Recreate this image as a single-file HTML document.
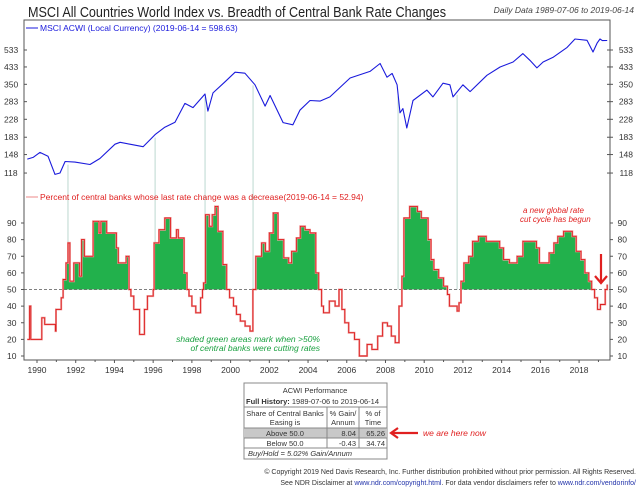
<!DOCTYPE html>
<html><head><meta charset="utf-8"><style>
body{margin:0;background:#fff;}
svg{display:block;font-family:"Liberation Sans",sans-serif;}
</style></head><body>
<svg id="c" width="640" height="488" viewBox="0 0 640 488">
<text x="28" y="17" font-size="15" textLength="418" lengthAdjust="spacingAndGlyphs" fill="#222">MSCI All Countries World Index vs. Breadth of Central Bank Rate Changes</text>
<text x="634" y="13" font-size="8.5" font-style="italic" fill="#444" text-anchor="end">Daily Data 1989-07-06 to 2019-06-14</text>
<rect x="24" y="20" width="586" height="340" fill="none" stroke="#555" stroke-width="1"/>
<g id="guides"></g>
<g id="lower"></g>
<g id="upper"></g>
<g id="axes"></g>
<line x1="26" y1="28" x2="38" y2="28" stroke="#1a1adc"/>
<text x="40" y="31" font-size="8.5" fill="#1a1adc">MSCI ACWI (Local Currency) (2019-06-14 = 598.63)</text>
<line x1="26" y1="197" x2="38" y2="197" stroke="#e88"/>
<text x="40" y="200" font-size="8.5" fill="#e02020">Percent of central banks whose last rate change was a decrease(2019-06-14 = 52.94)</text>
<text x="320" y="342" font-size="8.5" font-style="italic" fill="#1aa040" text-anchor="end">shaded green areas mark when &gt;50%</text>
<text x="320" y="351" font-size="8.5" font-style="italic" fill="#1aa040" text-anchor="end">of central banks were cutting rates</text>
<text x="523" y="213" font-size="8" font-style="italic" fill="#e02020">a new global rate</text>
<text x="520" y="222" font-size="8" font-style="italic" fill="#e02020">cut cycle has begun</text>
<g><line x1="601" y1="254" x2="601" y2="282" stroke="#e02020" stroke-width="2.2"/><polyline points="595,276 601,283 607,276" fill="none" stroke="#e02020" stroke-width="2.2"/></g>
<g font-size="7.5" fill="#333">
<rect x="244" y="383" width="143" height="76" fill="#fff" stroke="#888"/>
<rect x="244" y="428" width="143" height="10" fill="#c8c8c8"/>
<line x1="244" y1="407" x2="387" y2="407" stroke="#888"/>
<line x1="244" y1="428" x2="387" y2="428" stroke="#888"/>
<line x1="244" y1="438" x2="387" y2="438" stroke="#888"/>
<line x1="244" y1="448" x2="387" y2="448" stroke="#888"/>
<line x1="327" y1="407" x2="327" y2="448" stroke="#888"/>
<line x1="359" y1="407" x2="359" y2="448" stroke="#888"/>
<text x="315" y="393" text-anchor="middle">ACWI Performance</text>
<text x="246" y="404"><tspan font-weight="bold">Full History:</tspan> 1989-07-06 to 2019-06-14</text>
<text x="285" y="416" text-anchor="middle">Share of Central Banks</text>
<text x="285" y="425" text-anchor="middle">Easing is</text>
<text x="343" y="416" text-anchor="middle">% Gain/</text>
<text x="343" y="425" text-anchor="middle">Annum</text>
<text x="373" y="416" text-anchor="middle">% of</text>
<text x="373" y="425" text-anchor="middle">Time</text>
<text x="285" y="436" text-anchor="middle">Above 50.0</text>
<text x="356" y="436" text-anchor="end">8.04</text>
<text x="385" y="436" text-anchor="end">65.26</text>
<text x="285" y="446" text-anchor="middle">Below 50.0</text>
<text x="356" y="446" text-anchor="end">-0.43</text>
<text x="385" y="446" text-anchor="end">34.74</text>
<text x="248" y="456" font-style="italic">Buy/Hold = 5.02% Gain/Annum</text>
</g>
<g><line x1="392" y1="433" x2="418" y2="433" stroke="#e02020" stroke-width="2.2"/><polyline points="398,428 391,433 398,438" fill="none" stroke="#e02020" stroke-width="2.2"/></g>
<text x="423" y="436" font-size="8.5" font-style="italic" fill="#e02020">we are here now</text>
<text x="636" y="474" font-size="7" fill="#333" text-anchor="end">© Copyright 2019 Ned Davis Research, Inc. Further distribution prohibited without prior permission. All Rights Reserved.</text>
<text x="636" y="485" font-size="7" fill="#333" text-anchor="end">See NDR Disclaimer at <tspan fill="#2233aa">www.ndr.com/copyright.html</tspan>. For data vendor disclaimers refer to <tspan fill="#2233aa">www.ndr.com/vendorinfo/</tspan></text>
</svg>
<script>
const acwiYears=[1989.5,1989.8,1990.15,1990.57,1990.93,1991.19,1991.45,1991.96,1992.74,1993.25,1994.03,1994.29,1994.8,1995.48,1996.1,1996.6,1997.13,1997.64,1998.06,1998.68,1998.83,1999.09,1999.71,2000.23,2000.74,2001.26,2001.78,2002.04,2002.71,2003.22,2003.58,2004.1,2004.62,2005.13,2006.17,2007.2,2007.72,2008.08,2008.34,2008.6,2008.75,2008.9,2009.1,2009.42,2010.14,2010.45,2010.97,2011.33,2011.49,2012.0,2012.37,2013.24,2013.92,2014.59,2015.1,2015.46,2015.82,2016.14,2016.65,2017.38,2017.79,2018.41,2018.72,2018.93,2019.08,2019.2,2019.45];
const acwiValues=[140,143,152,145,116,118,136,135,131,141,168,172,168,163,189,207,220,277,263,311,252,315,361,406,401,348,268,305,219,213,255,287,285,300,378,410,452,382,400,348,247,260,205,287,326,300,355,348,300,348,320,391,433,460,510,470,428,460,487,550,610,600,520,580,610,598,598.63];
const breadthYears=[1989.5,1989.62,1989.68,1990.25,1990.4,1990.95,1990.98,1991.25,1991.35,1991.5,1991.6,1991.7,1991.9,1992.2,1992.3,1992.45,1992.9,1993.2,1993.3,1993.6,1994.1,1994.2,1994.5,1994.6,1994.75,1994.85,1995.0,1995.3,1995.55,1995.7,1996.0,1996.05,1996.3,1996.6,1996.9,1997.2,1997.3,1997.6,1997.75,1997.85,1998.0,1998.2,1998.45,1998.55,1998.6,1998.7,1998.9,1999.05,1999.2,1999.35,1999.6,1999.8,1999.95,2000.15,2000.3,2000.5,2000.75,2001.0,2001.15,2001.3,2001.6,2001.8,2002.0,2002.2,2002.45,2002.75,2003.0,2003.15,2003.4,2003.6,2003.85,2004.1,2004.4,2004.55,2004.7,2004.8,2005.1,2005.4,2005.6,2005.75,2005.9,2006.1,2006.4,2006.65,2007.05,2007.3,2007.6,2007.85,2008.1,2008.3,2008.5,2008.7,2008.85,2008.95,2009.25,2009.65,2009.85,2010.2,2010.35,2010.5,2010.75,2011.0,2011.2,2011.3,2011.7,2011.8,2011.9,2012.05,2012.3,2012.5,2012.8,2013.2,2013.9,2014.1,2014.4,2014.8,2015.1,2015.8,2015.95,2016.45,2016.7,2016.9,2017.2,2017.65,2017.85,2018.1,2018.3,2018.5,2018.65,2018.8,2018.95,2019.1,2019.35,2019.45];
const breadthValues=[20,40,20,33,29,25,38,45,56,66,78,55,66,58,80,70,91,84,91,84,75,66,66,70,50,46,38,23,38,46,50,78,86,93,81,86,81,60,50,46,40,36,45,50,54,95,88,95,100,85,65,50,45,40,35,31,28,25,50,70,78,73,84,96,80,69,66,73,81,88,86,84,60,50,40,36,43,40,50,38,30,24,20,10,17,14,22,30,28,22,18,40,58,93,100,97,93,80,68,62,57,52,47,40,37,42,55,66,70,79,82,79,75,68,66,70,79,75,66,72,78,82,85,82,73,68,60,55,50,45,38,41,50,53];
const cycleStarts=[1991.6,1996.1,1998.68,2001.16,2008.65,2011.7];
const upperTicks=[533,433,350,283,228,183,148,118];
const lowerTicks=[10,20,30,40,50,60,70,80,90];
const yearTicks=[1990,1992,1994,1996,1998,2000,2002,2004,2006,2008,2010,2012,2014,2016,2018];
const END=2019.45;
const NS="http://www.w3.org/2000/svg";
function xs(y){return 37+(y-1990)*19.36;}
function yu(v){return 50+(Math.log(533)-Math.log(v))*81.6;}
function yl(v){return 223+(90-v)*1.6625;}
function mk(tag,attrs,parent){const e=document.createElementNS(NS,tag);for(const k in attrs)e.setAttribute(k,attrs[k]);parent.appendChild(e);return e;}
function interp(yr){for(let i=0;i<acwiYears.length-1;i++){if(yr<=acwiYears[i+1]){const t=(yr-acwiYears[i])/(acwiYears[i+1]-acwiYears[i]);return acwiValues[i]+t*(acwiValues[i+1]-acwiValues[i]);}}return acwiValues[acwiValues.length-1];}
const G=document.getElementById('guides'),L=document.getElementById('lower'),U=document.getElementById('upper'),A=document.getElementById('axes');
cycleStarts.forEach(function(yr){
 const l=mk('line',{x1:xs(yr),x2:xs(yr),y1:yu(interp(yr))+3,y2:yl(50),stroke:'#bcd8d0','stroke-width':1},G);
 
 
});
let pts=[];
for(let i=0;i<breadthYears.length;i++){
 const x0=xs(breadthYears[i]),x1=xs(i<breadthYears.length-1?breadthYears[i+1]:END),yv=yl(breadthValues[i]);
 pts.push([x0,yv],[x1,yv]);
}
const clip=mk('clipPath',{id:'above'},L);
mk('rect',{x:0,y:0,width:640,height:yl(50)},clip);
let fd='M'+pts[0][0]+','+yl(50)+' '+pts.map(p=>'L'+p[0].toFixed(1)+','+p[1].toFixed(1)).join(' ')+' L'+pts[pts.length-1][0]+','+yl(50)+' Z';
const fill=mk('path',{d:fd,fill:'#22b14c','clip-path':'url(#above)'},L);


const ref=mk('line',{x1:24,x2:610,y1:yl(50),y2:yl(50),stroke:'#555','stroke-dasharray':'3,2','stroke-width':0.8},L);


let ld='M'+pts.map(p=>p[0].toFixed(1)+','+p[1].toFixed(1)).join(' L');
const halo=mk('path',{d:ld,fill:'none',stroke:'#f0a0a0','stroke-width':2},L);


const bl=mk('path',{d:ld,fill:'none',stroke:'#dd2020','stroke-width':0.9},L);


let ud='M'+acwiYears.map((y,i)=>xs(y).toFixed(1)+','+yu(acwiValues[i]).toFixed(1)).join(' L');
const ul=mk('path',{d:ud,fill:'none',stroke:'#1a1adc','stroke-width':1.1,'stroke-linejoin':'round'},U);


upperTicks.forEach(function(v){
 [[3,'start'],[630,'end']].forEach(function(s){
  const t=mk('text',{x:s[0]===3?4:633,y:yu(v)+3,'font-size':8.5,fill:'#333','text-anchor':s[0]===3?'start':'end'},A);
  t.textContent=v;
  
  
 });
 mk('line',{x1:24,x2:27,y1:yu(v),y2:yu(v),stroke:'#555'},A);
 mk('line',{x1:607,x2:613,y1:yu(v),y2:yu(v),stroke:'#555'},A);
});
lowerTicks.forEach(function(v){
 [[8,'start'],[630,'end']].forEach(function(s){
  const t=mk('text',{x:s[0]===8?7:627,y:yl(v)+3,'font-size':8.5,fill:'#333','text-anchor':s[0]===8?'start':'end'},A);
  t.textContent=v;
  
  
 });
 mk('line',{x1:21,x2:24,y1:yl(v),y2:yl(v),stroke:'#555'},A);
 mk('line',{x1:610,x2:613,y1:yl(v),y2:yl(v),stroke:'#555'},A);
});
yearTicks.forEach(function(yr){
 mk('line',{x1:xs(yr),x2:xs(yr),y1:360,y2:363,stroke:'#555'},A);
 mk('line',{x1:xs(yr+1),x2:xs(yr+1),y1:360,y2:362,stroke:'#555'},A);
 const t=mk('text',{x:xs(yr),y:373,'font-size':8.5,fill:'#333','text-anchor':'middle'},A);
 t.textContent=yr;
 
 
});
</script>
</body></html>
